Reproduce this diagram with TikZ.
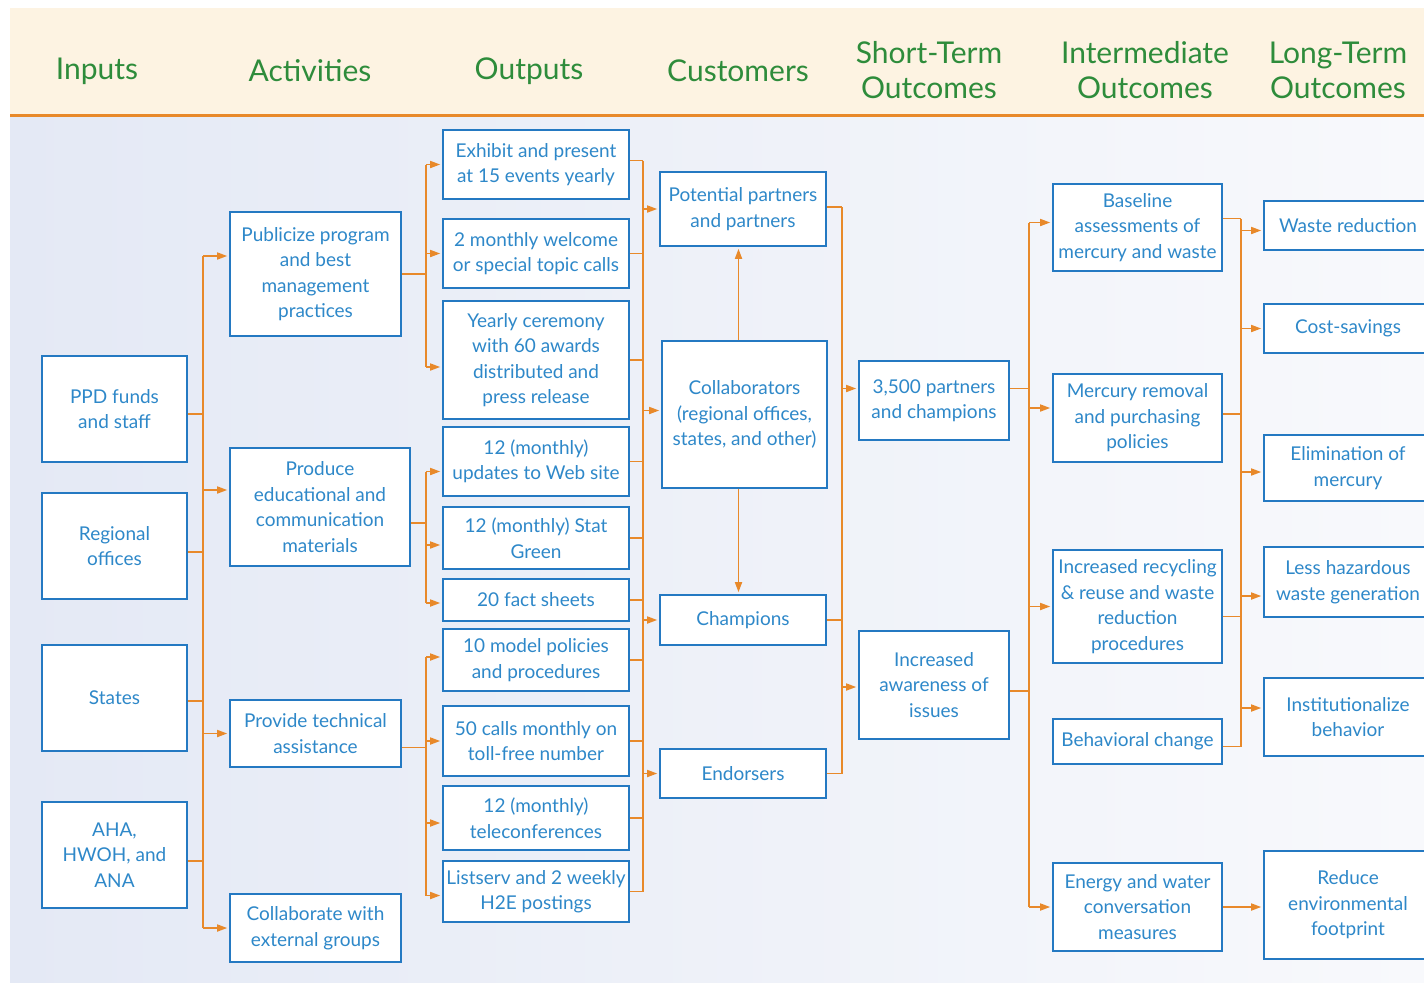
\documentclass[tikz,border=0pt]{standalone}
\usepackage{fontspec}
\setmainfont{Lato}
\usetikzlibrary{arrows.meta}
\definecolor{headcream}{HTML}{FDF3E2}
\definecolor{bgleft}{HTML}{E4E9F5}
\definecolor{bgright}{HTML}{F8F9FC}
\definecolor{linkorange}{HTML}{E8892A}
\definecolor{boxblue}{HTML}{2479C2}
\definecolor{txtblue}{HTML}{2E88C9}
\definecolor{headgreen}{HTML}{2E8C3B}
\newcommand{\bodyfont}{\fontsize{19}{25.5}\selectfont}
\newcommand{\headfont}{\fontsize{30}{35}\selectfont}
\tikzstyle{cell} = [rectangle, draw=boxblue, line width=1.6pt, fill=white, text=txtblue, align=center, inner sep=2pt, font=\bodyfont]
\tikzstyle{heading} = [text=headgreen, align=center, font=\headfont]
\tikzstyle{link} = [draw=linkorange, line width=1.6pt]
\tikzstyle{arrow} = [link, -{Triangle[length=10pt,width=7pt]}, shorten >=2pt]
\begin{document}
\begin{tikzpicture}[x=1pt, y=-1pt]
\useasboundingbox (0,0) rectangle (1424,983);
% background bands
\fill[headcream] (10,8) rectangle (1424,114);
\shade[left color=bgleft, right color=bgright] (10,117) rectangle (1424,982);
\draw[linkorange, line width=3pt] (10,115.5) -- (1424,115.5);

% column headings
\node (hinputs) [heading] at (97,71) {Inputs};
\node (hactivities) [heading] at (310,71) {Activities};
\node (houtputs) [heading] at (529,71) {Outputs};
\node (hcustomers) [heading] at (738,71) {Customers};
\node (hshort) [heading] at (929,70) {Short-Term\\Outcomes};
\node (hinter) [heading] at (1145,70) {Intermediate\\Outcomes};
\node (hlong) [heading] at (1338,70) {Long-Term\\Outcomes};

% inputs
\node (ppd) [cell, minimum width=145pt, minimum height=106pt] at (114.5,409) {PPD funds\\and staff};
\node (regional) [cell, minimum width=145pt, minimum height=106pt] at (114.5,546) {Regional\\offices};
\node (states) [cell, minimum width=145pt, minimum height=106pt] at (114.5,698) {States};
\node (aha) [cell, minimum width=145pt, minimum height=106pt] at (114.5,855) {AHA,\\HWOH, and\\ANA};

% activities
\node (publicize) [cell, minimum width=171pt, minimum height=124pt] at (315.5,274) {Publicize program\\and best\\management\\practices};
\node (produce) [cell, minimum width=180pt, minimum height=118pt] at (320,507) {Produce\\educational and\\communication\\materials};
\node (provide) [cell, minimum width=171pt, minimum height=67pt] at (315.5,733.5) {Provide technical\\assistance};
\node (collab) [cell, minimum width=171pt, minimum height=68pt] at (315.5,928) {Collaborate with\\external groups};

% outputs
\node (exhibit) [cell, minimum width=186pt, minimum height=69pt] at (536,164.5) {Exhibit and present\\at 15 events yearly};
\node (welcome) [cell, minimum width=186pt, minimum height=69pt] at (536,253.5) {2 monthly welcome\\or special topic calls};
\node (ceremony) [cell, minimum width=186pt, minimum height=118pt] at (536,360) {Yearly ceremony\\with 60 awards\\distributed and\\press release};
\node (updates) [cell, minimum width=186pt, minimum height=69pt] at (536,461.5) {12 (monthly)\\updates to Web site};
\node (statgreen) [cell, minimum width=186pt, minimum height=62pt] at (536,538) {12 (monthly) Stat\\Green};
\node (facts) [cell, minimum width=186pt, minimum height=42pt] at (536,600) {20 fact sheets};
\node (model) [cell, minimum width=186pt, minimum height=62pt] at (536,660) {10 model policies\\and procedures};
\node (calls) [cell, minimum width=186pt, minimum height=70pt] at (536,741) {50 calls monthly on\\toll-free number};
\node (telecon) [cell, minimum width=186pt, minimum height=64pt] at (536,818) {12 (monthly)\\teleconferences};
\node (listserv) [cell, minimum width=186pt, minimum height=61pt] at (536,891.5) {Listserv and 2 weekly\\H2E postings};

% customers
\node (potential) [cell, minimum width=166pt, minimum height=74pt] at (743,209) {Potential partners\\and partners};
\node (collaborators) [cell, minimum width=165pt, minimum height=147pt] at (744.5,414.5) {Collaborators\\(regional offices,\\states, and other)};
\node (champions) [cell, minimum width=166pt, minimum height=50pt] at (743,620) {Champions};
\node (endorsers) [cell, minimum width=166pt, minimum height=49pt] at (743,773.5) {Endorsers};

% short-term outcomes
\node (partners) [cell, minimum width=150pt, minimum height=79pt] at (934,400.5) {3,500 partners\\and champions};
\node (awareness) [cell, minimum width=150pt, minimum height=108pt] at (934,685) {Increased\\awareness of\\issues};

% intermediate outcomes
\node (baseline) [cell, minimum width=169pt, minimum height=87pt] at (1137.5,227.5) {Baseline\\assessments of\\mercury and waste};
\node (removal) [cell, minimum width=169pt, minimum height=88pt] at (1137.5,418) {Mercury removal\\and purchasing\\policies};
\node (recycling) [cell, minimum width=169pt, minimum height=113pt] at (1137.5,606.5) {Increased recycling\\\& reuse and waste\\reduction\\procedures};
\node (behavior) [cell, minimum width=169pt, minimum height=45pt] at (1137.5,741.5) {Behavioral change};
\node (energy) [cell, minimum width=169pt, minimum height=88pt] at (1137.5,907) {Energy and water\\conversation\\measures};

% long-term outcomes
\node (waste) [cell, minimum width=168pt, minimum height=49pt] at (1348,225.5) {Waste reduction};
\node (cost) [cell, minimum width=168pt, minimum height=49pt] at (1348,328.5) {Cost-savings};
\node (elimination) [cell, minimum width=168pt, minimum height=66pt] at (1348,468) {Elimination of\\mercury};
\node (hazardous) [cell, minimum width=168pt, minimum height=70pt] at (1348,582) {Less hazardous\\waste generation};
\node (institution) [cell, minimum width=168pt, minimum height=78pt] at (1348,717) {Institutionalize\\behavior};
\node (footprint) [cell, minimum width=168pt, minimum height=108pt] at (1348,905) {Reduce\\environmental\\footprint};

% bus lines
\coordinate (inbus) at (203,0);
\coordinate (actbus) at (426,0);
\coordinate (outbus) at (643,0);
\coordinate (custbus) at (842,0);
\coordinate (shortbus) at (1029,0);
\coordinate (interbus) at (1241,0);

% inputs -> activities
\draw [link] ([yshift=18pt]publicize.west -| inbus) -- (collab.west -| inbus);
\draw [link] ([yshift=-5pt]ppd.east) -- ([yshift=-5pt]ppd.east -| inbus);
\draw [link] ([yshift=-6pt]regional.east) -- ([yshift=-6pt]regional.east -| inbus);
\draw [link] ([yshift=-3pt]states.east) -- ([yshift=-3pt]states.east -| inbus);
\draw [link] ([yshift=-6pt]aha.east) -- ([yshift=-6pt]aha.east -| inbus);
\draw [arrow] ([yshift=18pt]publicize.west -| inbus) -- ([yshift=18pt]publicize.west);
\draw [arrow] ([yshift=17pt]produce.west -| inbus) -- ([yshift=17pt]produce.west);
\draw [arrow] (provide.west -| inbus) -- (provide.west);
\draw [arrow] (collab.west -| inbus) -- (collab.west);

% activities -> outputs
\draw [link] (publicize.east) -- (publicize.east -| actbus);
\draw [link] (exhibit.west -| actbus) -- ([yshift=-7pt]ceremony.west -| actbus);
\draw [arrow] (exhibit.west -| actbus) -- (exhibit.west);
\draw [arrow] (welcome.west -| actbus) -- (welcome.west);
\draw [arrow] ([yshift=-7pt]ceremony.west -| actbus) -- ([yshift=-7pt]ceremony.west);
\draw [link] ([yshift=-16pt]produce.east) -- ([yshift=-16pt]produce.east -| actbus);
\draw [link] ([yshift=-10pt]updates.west -| actbus) -- ([yshift=-3pt]facts.west -| actbus);
\draw [arrow] ([yshift=-10pt]updates.west -| actbus) -- ([yshift=-10pt]updates.west);
\draw [arrow] ([yshift=-7pt]statgreen.west -| actbus) -- ([yshift=-7pt]statgreen.west);
\draw [arrow] ([yshift=-3pt]facts.west -| actbus) -- ([yshift=-3pt]facts.west);
\draw [link] ([yshift=-14pt]provide.east) -- ([yshift=-14pt]provide.east -| actbus);
\draw [link] ([yshift=3pt]model.west -| actbus) -- ([yshift=-4pt]listserv.west -| actbus);
\draw [arrow] ([yshift=3pt]model.west -| actbus) -- ([yshift=3pt]model.west);
\draw [arrow] (calls.west -| actbus) -- (calls.west);
\draw [arrow] ([yshift=-5pt]telecon.west -| actbus) -- ([yshift=-5pt]telecon.west);
\draw [arrow] ([yshift=-4pt]listserv.west -| actbus) -- ([yshift=-4pt]listserv.west);

% outputs -> customers
\draw [link] ([yshift=4pt]exhibit.east -| outbus) -- (listserv.east -| outbus);
\draw [link] ([yshift=4pt]exhibit.east) -- ([yshift=4pt]exhibit.east -| outbus);
\draw [link] (welcome.east) -- (welcome.east -| outbus);
\draw [link] (ceremony.east) -- (ceremony.east -| outbus);
\draw [link] (updates.east) -- (updates.east -| outbus);
\draw [link] (statgreen.east) -- (statgreen.east -| outbus);
\draw [link] (facts.east) -- (facts.east -| outbus);
\draw [link] (model.east) -- (model.east -| outbus);
\draw [link] (calls.east) -- (calls.east -| outbus);
\draw [link] (telecon.east) -- (telecon.east -| outbus);
\draw [link] (listserv.east) -- (listserv.east -| outbus);
\draw [arrow] (potential.west -| outbus) -- (potential.west);
\draw [arrow] ([yshift=4pt]collaborators.west -| outbus) -- ([yshift=4pt]collaborators.west);
\draw [arrow] (champions.west -| outbus) -- (champions.west);
\draw [arrow] (endorsers.west -| outbus) -- (endorsers.west);
\draw [arrow] ([xshift=-6pt]collaborators.north) -- ([xshift=-6pt]collaborators.north |- potential.south);
\draw [arrow] ([xshift=-6pt]collaborators.south) -- ([xshift=-6pt]collaborators.south |- champions.north);

% customers -> short-term outcomes
\draw [link] ([yshift=2pt]potential.east -| custbus) -- (endorsers.east -| custbus);
\draw [link] ([yshift=2pt]potential.east) -- ([yshift=2pt]potential.east -| custbus);
\draw [link] (champions.east) -- (champions.east -| custbus);
\draw [link] (endorsers.east) -- (endorsers.east -| custbus);
\draw [arrow] ([yshift=12pt]partners.west -| custbus) -- ([yshift=12pt]partners.west);
\draw [arrow] ([yshift=-2pt]awareness.west -| custbus) -- ([yshift=-2pt]awareness.west);

% short-term -> intermediate outcomes
\draw [link] ([yshift=5pt]baseline.west -| shortbus) -- (energy.west -| shortbus);
\draw [link] ([yshift=12pt]partners.east) -- ([yshift=12pt]partners.east -| shortbus);
\draw [link] ([yshift=-6pt]awareness.east) -- ([yshift=-6pt]awareness.east -| shortbus);
\draw [arrow] ([yshift=5pt]baseline.west -| shortbus) -- ([yshift=5pt]baseline.west);
\draw [arrow] ([yshift=10pt]removal.west -| shortbus) -- ([yshift=10pt]removal.west);
\draw [arrow] (recycling.west -| shortbus) -- (recycling.west);
\draw [arrow] (energy.west -| shortbus) -- (energy.west);

% intermediate -> long-term outcomes
\draw [link] ([yshift=9pt]baseline.east -| interbus) -- ([yshift=-5pt]behavior.east -| interbus);
\draw [link] ([yshift=9pt]baseline.east) -- ([yshift=9pt]baseline.east -| interbus);
\draw [link] ([yshift=4pt]removal.east) -- ([yshift=4pt]removal.east -| interbus);
\draw [link] ([yshift=-10pt]recycling.east) -- ([yshift=-10pt]recycling.east -| interbus);
\draw [link] ([yshift=-5pt]behavior.east) -- ([yshift=-5pt]behavior.east -| interbus);
\draw [arrow] ([yshift=-5pt]waste.west -| interbus) -- ([yshift=-5pt]waste.west);
\draw [arrow] (cost.west -| interbus) -- (cost.west);
\draw [arrow] ([yshift=-4pt]elimination.west -| interbus) -- ([yshift=-4pt]elimination.west);
\draw [arrow] ([yshift=-14pt]hazardous.west -| interbus) -- ([yshift=-14pt]hazardous.west);
\draw [arrow] ([yshift=9pt]institution.west -| interbus) -- ([yshift=9pt]institution.west);
\draw [arrow] (energy.east) -- (energy.east -| footprint.west);
\end{tikzpicture}
\end{document}
